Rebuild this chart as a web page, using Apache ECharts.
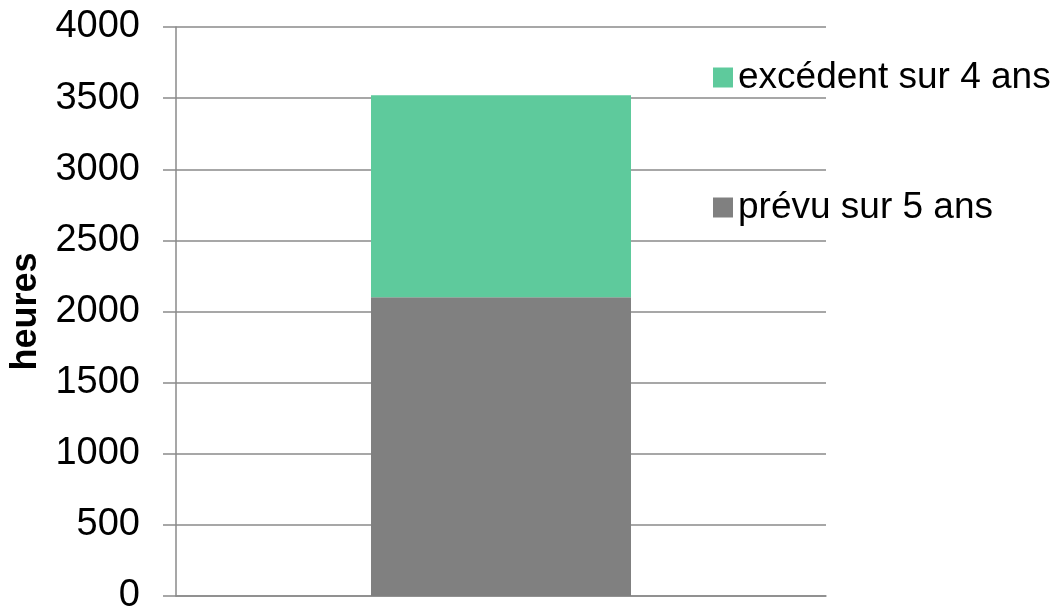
<!DOCTYPE html>
<html>
<head>
<meta charset="utf-8">
<script src="https://cdn.jsdelivr.net/npm/echarts@6/dist/echarts.min.js"></script>
<style>
html,body{margin:0;padding:0;background:#fff;}
#chart{width:1055px;height:608px;}
</style>
</head>
<body>
<div id="chart"></div>
<script>
const categories = [''];
const prevu = [2100];
const excedent = [1420];
const seriesNames = ['prévu sur 5 ans', 'excédent sur 4 ans'];
const yTicks = [0, 500, 1000, 1500, 2000, 2500, 3000, 3500, 4000];

const lineColor = '#8a8a8a';
const font = 'Liberation Sans, Arial, sans-serif';

const chart = echarts.init(document.getElementById('chart'), null, {renderer: 'canvas'});
chart.setOption({
  animation: false,
  backgroundColor: '#ffffff',
  grid: {left: 176, right: 229, top: 27, bottom: 12, containLabel: false, outerBoundsMode: 'none'},
  legend: [
    {
      data: [seriesNames[1]], left: 708, top: 54, orient: 'vertical',
      itemWidth: 20, itemHeight: 20, icon: 'rect',
      textStyle: {fontFamily: font, fontSize: 37, color: '#000', lineHeight: 37, padding: [0,0,0,0]}
    },
    {
      data: [seriesNames[0]], left: 708, top: 184, orient: 'vertical',
      itemWidth: 20, itemHeight: 20, icon: 'rect',
      textStyle: {fontFamily: font, fontSize: 37, color: '#000', lineHeight: 37, padding: [0,0,0,0]}
    }
  ],
  xAxis: {
    type: 'category',
    data: categories,
    axisLine: {show: true, lineStyle: {color: lineColor, width: 1.5}},
    axisTick: {show: false},
    axisLabel: {show: false},
    splitLine: {show: false}
  },
  yAxis: {
    type: 'value',
    min: yTicks[0], max: yTicks[yTicks.length - 1], interval: yTicks[1] - yTicks[0],
    name: 'heures',
    nameLocation: 'middle',
    nameGap: 130,
    nameRotate: 90,
    nameTextStyle: {fontFamily: font, fontSize: 36, fontWeight: 'bold', color: '#000'},
    axisLine: {show: true, lineStyle: {color: lineColor, width: 1.5}},
    axisTick: {show: true, inside: false, length: 13, lineStyle: {color: lineColor, width: 1.5}},
    axisLabel: {fontFamily: font, fontSize: 38, color: '#000', margin: 36, formatter: v => String(v)},
    splitLine: {show: true, lineStyle: {color: lineColor, width: 1.5}}
  },
  series: [
    {
      name: seriesNames[0], type: 'bar', stack: 'total', data: prevu,
      barWidth: '40%', itemStyle: {color: '#808080'}
    },
    {
      name: seriesNames[1], type: 'bar', stack: 'total', data: excedent,
      barWidth: '40%', itemStyle: {color: '#5eca9c'}
    }
  ]
});
</script>
</body>
</html>
